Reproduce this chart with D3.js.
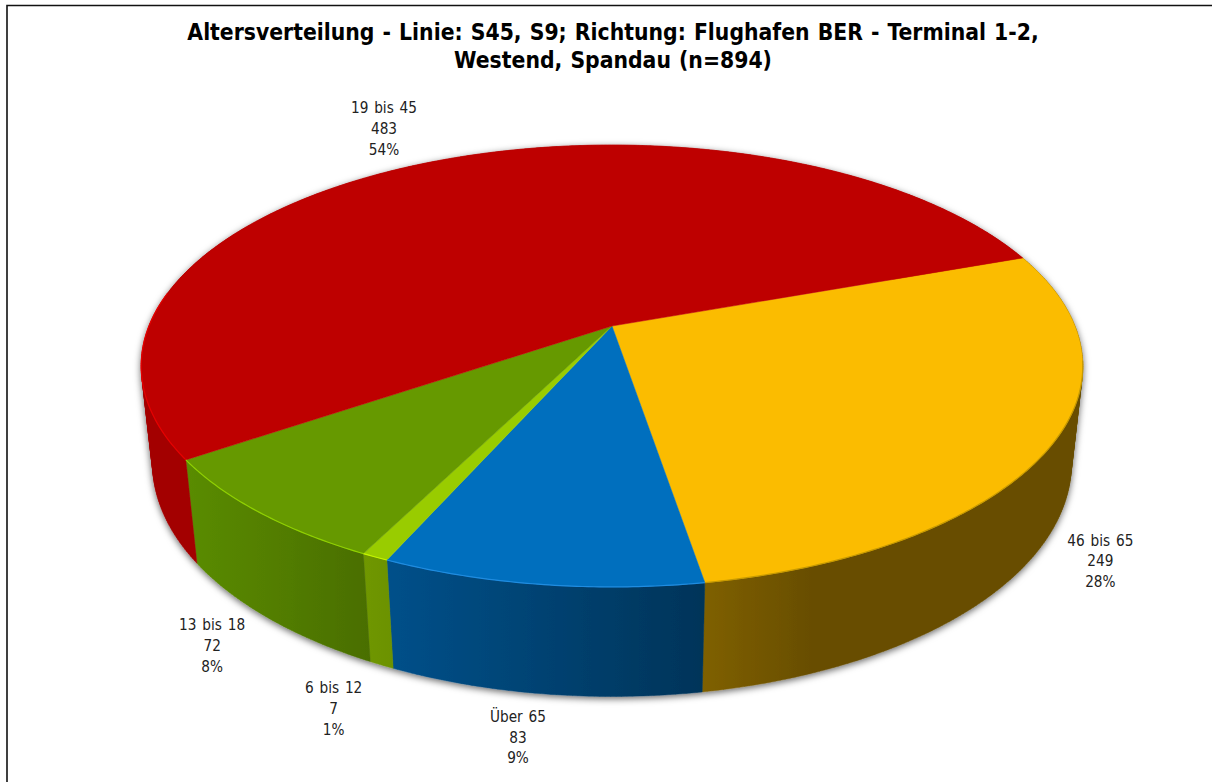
<!DOCTYPE html>
<html><head><meta charset="utf-8">
<script src="https://cdn.jsdelivr.net/npm/d3@7"></script>
<style>
html,body{margin:0;padding:0;background:#fff}
svg{display:block}
text{font-family:"DejaVu Sans Condensed","DejaVu Sans",sans-serif;font-stretch:condensed}
</style></head><body><div id="c"></div>
<script>
// Data
const categories = ["46 bis 65","Über 65","6 bis 12","13 bis 18","19 bis 45"];
const values = [249,83,7,72,483];
const percents = ["28%","9%","1%","8%","54%"];
const titleLines = ["Altersverteilung - Linie: S45, S9; Richtung: Flughafen BER - Terminal 1-2,","Westend, Spandau (n=894)"];
// Styles
const topColors = ["#FBBC00","#006FBE","#99CC00","#669900","#BE0000"];
const rimColors = ["#c79a00","#1f8ce0","#c4f500","#8fd000","#e60000"];
const wallFrom  = ["#7f6000","#00508a","#6f9700","#5a8c00","#a30000"];
const wallTo    = ["#674d00","#003459","#6c9200","#4a6e00","#a30000"];
const labelNudge = [[60,13.5],[-25,44],[-48,44],[-56,28],[-47,-33]];

const W=1212,H=782;
// Perspective projection of the unit disc
const P={cx:612,cy:326,a:463,b:213.7,c:98.6,k:-0.181,m:0.024};
function project(theta,z){
  const X=Math.sin(theta),Y=-Math.cos(theta),w=1+P.k*Y+P.m*z;
  return [P.cx+P.a*X/w,P.cy+(P.b*Y+P.c*z)/w];
}
const startAngle=70.25*Math.PI/180;
const pie=d3.pie().sort(null).startAngle(startAngle).endAngle(startAngle+2*Math.PI);
const arcs=pie(values);
const sample=(a0,a1)=>{const n=Math.max(4,Math.ceil((a1-a0)/0.01));return d3.range(n+1).map(i=>a0+(a1-a0)*i/n);};
const line=d3.line();
const svg=d3.select("#c").append("svg").attr("width",W).attr("height",H);
const defs=svg.append("defs");
const f=defs.append("filter").attr("id","sh").attr("x","-10%").attr("y","-10%").attr("width","120%").attr("height","125%");
f.append("feDropShadow").attr("dx",0).attr("dy",2).attr("stdDeviation",3.5).attr("flood-color","#000").attr("flood-opacity",0.6);

// Frame
svg.append("path").attr("d",line([[7,H],[7,5.5],[W,5.5]])).attr("fill","none").attr("stroke","#111").attr("stroke-width",1.6);

// Walls: one consistently oriented quad per step, merged into one path per slice
function quad(a0,a1){
  const q=[project(a0,0),project(a1,0),project(a1,1),project(a0,1)];
  if(d3.polygonArea(q)<0) q.reverse();
  return line(q)+"Z";
}
const walls=svg.append("g").attr("filter","url(#sh)");
arcs.forEach((d,i)=>{
  const t=sample(d.startAngle,d.endAngle);
  const frontT=t.filter(a=>Math.cos(a)<0.2);
  const xs=frontT.flatMap(a=>[project(a,0)[0],project(a,1)[0]]);
  const id="wg"+i;
  const g=defs.append("linearGradient").attr("id",id).attr("gradientUnits","userSpaceOnUse")
    .attr("x1",d3.min(xs)).attr("x2",d3.max(xs)).attr("y1",0).attr("y2",0);
  g.append("stop").attr("offset",0).attr("stop-color",wallFrom[i]);
  g.append("stop").attr("offset",i===0?0.3:1).attr("stop-color",wallTo[i]);
  walls.append("path").attr("d",d3.pairs(t).map(p=>quad(p[0],p[1])).join(""))
    .attr("fill",`url(#${id})`).attr("stroke",`url(#${id})`).attr("stroke-width",0.4);
});

// Top faces
const topG=svg.append("g");
arcs.forEach((d,i)=>{
  const pts=[[P.cx,P.cy]].concat(sample(d.startAngle,d.endAngle).map(a=>project(a,0)));
  topG.append("path").attr("d",line(pts)+"Z").attr("fill",topColors[i]).attr("stroke",topColors[i]).attr("stroke-width",0.5);
});
// Front rim highlight
arcs.forEach((d,i)=>{
  const lo=Math.max(d.startAngle,Math.PI*0.55),hi=Math.min(d.endAngle,Math.PI*1.55);
  if(hi>lo) topG.append("path").attr("d",line(sample(lo,hi).map(a=>project(a,0))))
    .attr("fill","none").attr("stroke",rimColors[i]).attr("stroke-width",1.2);
});

// Title
svg.append("g").selectAll("text").data(titleLines).join("text")
  .attr("x",613).attr("y",(d,i)=>40+i*28).attr("text-anchor","middle")
  .attr("font-size",22.7).attr("word-spacing",1).attr("font-weight","bold").attr("fill","#000").text(d=>d);

// Labels
arcs.forEach((d,i)=>{
  const mid=(d.startAngle+d.endAngle)/2;
  const p=project(mid,Math.cos(mid)<0?1:0);
  const x=p[0]+labelNudge[i][0],y=p[1]+labelNudge[i][1];
  const g=svg.append("g");
  [categories[i],String(values[i]),percents[i]].forEach((s,j)=>{
    g.append("text").attr("x",x).attr("y",y+(j-1)*20.6+5).attr("text-anchor","middle")
      .attr("font-size",15.2).attr("word-spacing",1.5).attr("fill","#222").text(s);
  });
});
</script></body></html>
